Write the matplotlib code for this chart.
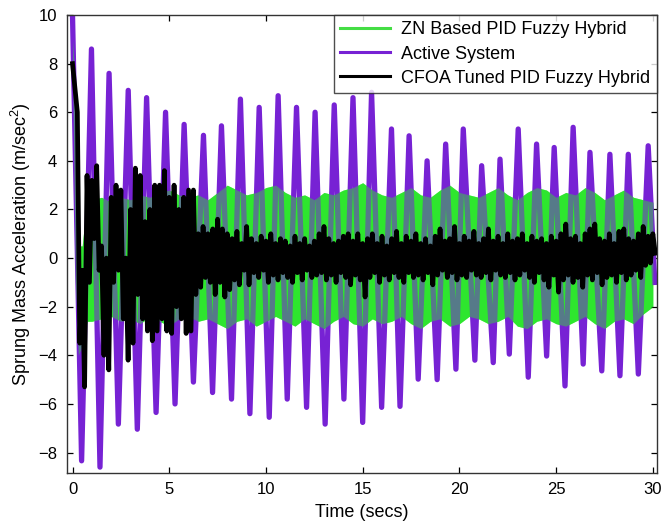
import numpy as np
import matplotlib
matplotlib.use("Agg")
import matplotlib.pyplot as plt
from matplotlib.lines import Line2D

plt.rcParams['font.family'] = ['Liberation Sans', 'DejaVu Sans']
plt.rcParams['mathtext.default'] = 'regular'

# ---------------- data ----------------
# Active System: alternating peak / trough times and values
active_peak_t = [0.0, 0.98, 1.89, 2.88, 3.83, 4.81, 5.77, 6.77, 7.70, 8.68, 9.65,
                 10.63, 11.58, 12.54, 13.53, 14.50, 15.46, 16.49, 17.40, 18.33,
                 19.29, 20.20, 21.15, 22.10, 23.04, 23.99, 24.90, 25.88, 26.75,
                 27.78, 28.73, 29.76]
active_peak_v = [10.0, 8.6, 7.6, 6.9, 6.6, 6.0, 5.5, 5.05, 5.44, 6.54, 6.2,
                 6.68, 6.2, 6.0, 6.3, 6.6, 6.82, 5.31, 5.03, 4.0,
                 4.69, 5.31, 3.8, 4.07, 5.31, 4.69, 4.55, 5.38, 4.35,
                 4.27, 4.27, 4.62]
active_trough_t = [0.47, 1.42, 2.37, 3.35, 4.32, 5.30, 6.25, 7.24, 8.22, 9.17,
                   10.17, 11.10, 12.10, 13.06, 14.03, 15.00, 15.98, 16.93, 17.87,
                   18.85, 19.82, 20.80, 21.75, 22.58, 23.56, 24.51, 25.46, 26.40,
                   27.36, 28.30, 29.25, 30.10]
active_trough_v = [-8.34, -8.6, -6.83, -7.04, -6.35, -6.0, -5.1, -5.53, -5.8, -6.4,
                   -6.55, -5.8, -6.14, -6.83, -5.8, -6.76, -6.14, -6.1, -4.98,
                   -5.0, -4.57, -4.2, -4.3, -3.95, -4.9, -4.03, -5.26, -4.36,
                   -4.64, -4.84, -4.77, -1.0]

# ZN Based PID Fuzzy Hybrid: upper / lower edge of the dense oscillation band
zn_t = [0.0, 0.15, 0.3, 0.5, 0.75] + list(np.arange(1.0, 30.01, 0.5))
zn_hi = [9.0, 7.0, 0.5, 0.5, 2.4,
         2.4, 2.5, 2.3, 2.5, 2.4, 2.6, 2.5, 2.7, 2.8, 2.6,
         2.5, 2.6, 2.4, 2.7, 3.0, 2.8, 2.6, 2.7, 2.9, 3.0,
         2.7, 2.5, 2.6, 2.4, 2.7, 2.6, 2.8, 2.9, 3.1, 2.8,
         2.6, 2.5, 2.7, 2.9, 2.6, 2.5, 2.8, 3.0, 2.7, 2.6,
         2.5, 2.7, 2.9, 2.6, 2.4, 2.7, 2.9, 2.8, 2.5, 2.7,
         2.6, 2.9, 2.7, 2.4, 2.6, 2.8, 2.5, 2.4, 2.3]
zn_lo = [8.0, -1.0, -4.0, -3.6, -2.6,
         -2.6, -2.5, -2.4, -2.6, -2.5, -2.7, -2.4, -2.6, -2.8, -2.5,
         -2.4, -2.6, -2.5, -2.7, -2.9, -2.6, -2.5, -2.8, -2.6, -2.4,
         -2.6, -2.8, -2.5, -2.7, -2.9, -2.6, -2.4, -2.7, -2.8, -2.5,
         -2.7, -2.6, -2.4, -2.7, -2.9, -2.6, -2.5, -2.8, -2.7, -2.4,
         -2.5, -2.7, -2.6, -2.4, -2.8, -2.9, -2.6, -2.5, -2.7, -2.8,
         -2.6, -2.4, -2.7, -2.9, -2.6, -2.5, -2.7, -2.3, -2.0]

# CFOA Tuned PID Fuzzy Hybrid: local high / low values every 0.25 s
cfoa_t = list(np.arange(0.0, 30.01, 0.25))
cfoa_hi = [8.0, 6.0, -0.5, 3.4, 3.2, 3.8, 0.5, 0.0, 2.5, 3.0, 2.8, 0.0,
           2.0, 3.7, 3.4, 1.5, 2.0, 3.0, 3.0, 3.6, 2.5, 3.0, 2.0, 2.5,
           2.8, 2.8, 1.0, 1.3, 1.0, 1.2, 1.6, 1.2, 1.0, 0.8, 1.1, 0.6,
           1.3, 0.8, 0.6, 0.9, 0.7, 1.0, 0.6, 0.8,
           0.7, 0.5, 0.9, 0.6, 0.8, 0.5, 0.7, 1.0,
           1.3, 0.8, 0.6, 0.7, 0.9, 1.0, 0.7, 1.0,
           0.6, 0.8, 1.0, 0.6, 0.9, 0.5, 0.8, 1.1,
           0.6, 0.9, 0.7, 1.0, 0.6, 0.8, 0.5, 0.9,
           1.2, 0.7, 0.8, 1.3, 0.6, 0.9, 0.7, 1.1,
           0.6, 0.8, 1.2, 0.7, 0.9, 0.6, 1.0, 0.7,
           0.8, 1.0, 0.6, 0.9, 0.7, 0.8, 0.6, 0.9,
           0.7, 1.0, 1.4, 0.8, 0.9, 0.6, 1.0, 1.2,
           1.4, 0.8, 0.7, 1.0, 0.6, 1.1, 1.2, 0.8,
           0.7, 1.0, 1.3, 0.9, 1.0]
cfoa_lo = [7.0, -3.5, -5.3, -1.0, 0.8, -0.5, -4.0, -4.6, -1.0, -0.5, -2.5, -4.2,
           -3.5, -1.5, -2.5, -3.0, -3.4, -3.0, -2.5, -3.0, -3.1, -2.0, -2.5, -3.1,
           -3.0, -1.5, -1.2, -0.8, -1.0, -1.5, -1.0, -1.6, -1.3, -0.9, -1.1, -0.5,
           -1.1, -0.6, -0.8, -0.5, -1.0, -0.7, -0.9, -0.6,
           -0.8, -1.0, -0.6, -0.9, -0.5, -0.8, -0.7, -0.6,
           -0.9, -0.7, -1.0, -0.6, -0.8, -1.1, -0.7, -0.9,
           -1.6, -0.8, -0.6, -1.0, -0.7, -0.9, -0.6, -0.8,
           -1.0, -0.6, -0.8, -0.7, -0.9, -0.6, -1.1, -0.7,
           -0.5, -0.8, -0.6, -0.9, -0.7, -0.8, -0.5, -0.7,
           -0.8, -0.6, -0.9, -0.5, -0.7, -0.8, -0.6, -0.9,
           -0.7, -0.5, -0.8, -1.0, -0.6, -0.9, -1.2, -0.7,
           -1.4, -0.9, -0.7, -1.0, -0.8, -1.2, -0.7, -0.9,
           -0.6, -1.1, -0.8, -0.7, -1.0, -0.6, -0.9, -0.7,
           -0.5, -0.8, -0.3, -0.2, 0.2]

labels = ["ZN Based PID Fuzzy Hybrid", "Active System", "CFOA Tuned PID Fuzzy Hybrid"]
x_ticks = [0, 5, 10, 15, 20, 25, 30]
y_ticks = [-8, -6, -4, -2, 0, 2, 4, 6, 8, 10]

# ---------------- build polylines ----------------
green = '#2ee62e'
purple = '#7722d4'
black = '#000000'

act_t = np.empty(len(active_peak_t) + len(active_trough_t))
act_v = np.empty_like(act_t)
act_t[0::2] = active_peak_t
act_t[1::2] = active_trough_t
act_v[0::2] = active_peak_v
act_v[1::2] = active_trough_v

cf_t = np.empty(2 * len(cfoa_t))
cf_v = np.empty_like(cf_t)
cf_t[0::2] = np.array(cfoa_t)
cf_t[1::2] = np.array(cfoa_t) + 0.125
cf_v[0::2] = cfoa_hi
cf_v[1::2] = cfoa_lo

fig = plt.figure(figsize=(6.61, 5.27), dpi=100)
ax = fig.add_axes([0.1015, 0.103, 0.892, 0.8685])

ax.fill_between(zn_t, zn_lo, zn_hi, color=green, lw=0, zorder=1)
ax.plot(act_t, act_v, color=purple, lw=3.8, zorder=2)
ax.fill_between(zn_t, zn_lo, zn_hi, color=green, alpha=0.45, lw=0, zorder=3)
ax.plot(cf_t, cf_v, color=black, lw=3.4, zorder=4)

ax.set_xlim(-0.28, 30.2)
ax.set_ylim(-8.83, 10.0)
ax.set_xticks(x_ticks)
ax.set_yticks(y_ticks)
ax.tick_params(direction='in', length=4.5, width=0.9, top=True, right=True,
               labelsize=12, pad=7)
for s in ax.spines.values():
    s.set_linewidth(1.0)
    s.set_color('#333333')

ax.set_xlabel("Time (secs)", fontsize=13, labelpad=5)
ax.set_ylabel("Sprung Mass Acceleration (m/sec$^2$)", fontsize=13, labelpad=4)

handles = [Line2D([], [], color='#44dd44', lw=2.2),
           Line2D([], [], color=purple, lw=2.2),
           Line2D([], [], color=black, lw=2.2)]
leg = ax.legend(handles, labels, loc='upper right', bbox_to_anchor=(1.0, 1.0),
                borderaxespad=0.0, fontsize=13, frameon=True, fancybox=False,
                handlelength=2.8, handletextpad=0.6, borderpad=0.35,
                labelspacing=0.4)
leg.get_frame().set_edgecolor('#222222')
leg.get_frame().set_linewidth(1.0)
leg.set_zorder(10)

fig.savefig("out.png", dpi=100)
